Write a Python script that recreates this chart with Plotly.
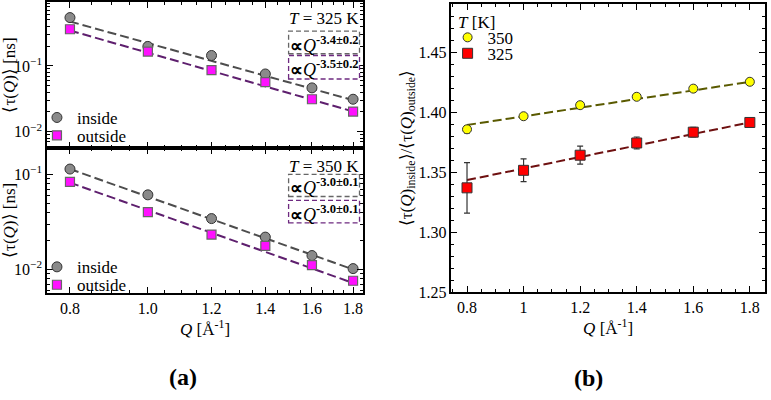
import plotly.graph_objects as go
import numpy as np

# ---------------- data ----------------
Q = [0.8, 1.0, 1.2, 1.4, 1.6, 1.8]
Q_ticks = [0.8, 1.0, 1.2, 1.4, 1.6, 1.8]
Q_ticktext_a = ["0.8", "1.0", "1.2", "1.4", "1.6", "1.8"]
Q_ticktext_b = ["0.8", "1", "1.2", "1.4", "1.6", "1.8"]
ratio_ticks = [1.25, 1.30, 1.35, 1.40, 1.45]
ratio_ticktext = ["1.25", "1.30", "1.35", "1.40", "1.45"]

# panel (a) top: T = 325 K
tau325_inside = [0.543, 0.198, 0.144, 0.0754, 0.0463, 0.0311]
tau325_inside_err = [0.03, 0.012, 0.01, 0.004, 0.0025, 0.0015]
tau325_outside = [0.361, 0.165, 0.0864, 0.0568, 0.0311, 0.0202]
tau325_outside_err = [0.025, 0.012, 0.006, 0.004, 0.002, 0.0012]
fit325_inside = (0.474, -3.4)    # amplitude at Q=0.8, exponent
fit325_outside = (0.346, -3.5)

# panel (a) bottom: T = 350 K
tau350_inside = [0.114, 0.061, 0.0343, 0.0219, 0.0140, 0.0102]
tau350_inside_err = [0.005, 0.003, 0.0015, 0.001, 0.0008, 0.0006]
tau350_outside = [0.0834, 0.0402, 0.0233, 0.0177, 0.0111, 0.0076]
tau350_outside_err = [0.004, 0.002, 0.0012, 0.0015, 0.0007, 0.0005]
fit350_inside = (0.114, -3.0)
fit350_outside = (0.082, -3.0)

# panel (b): ratio inside/outside
ratio350 = [1.3858, 1.3967, 1.4059, 1.4129, 1.4197, 1.4254]
ratio350_err = [0.003, 0.002, 0.002, 0.002, 0.002, 0.002]
ratio325 = [1.337, 1.3516, 1.3642, 1.3744, 1.3834, 1.3915]
ratio325_err = [0.021, 0.0095, 0.0075, 0.005, 0.004, 0.0035]
line350_ends = [1.3894, 1.4254]
line325_ends = [1.3435, 1.3915]

FONT = "Liberation Serif"

def powerlaw(fit):
    a, b = fit
    q = np.array(Q)
    return a * (q / Q[0]) ** b

fig = go.Figure()

grey_fill = "#8a8a8a"
grey_line = "#4d4d4d"
mag_fill = "#ff10ff"
purple_line = "#5e1f6e"
DASH = "9px,4px"

def add_panel_a(xa, ya, ins, ins_err, outs, outs_err, fit_in, fit_out, leg_in, leg_out):
    fig.add_trace(go.Scatter(x=Q, y=powerlaw(fit_in), mode="lines", xaxis=xa, yaxis=ya,
                             line=dict(color=grey_line, width=2, dash=DASH), showlegend=False))
    fig.add_trace(go.Scatter(x=Q, y=powerlaw(fit_out), mode="lines", xaxis=xa, yaxis=ya,
                             line=dict(color=purple_line, width=2, dash=DASH), showlegend=False))
    fig.add_trace(go.Scatter(x=Q, y=ins, mode="markers", name="inside", xaxis=xa, yaxis=ya,
                             legend=leg_in,
                             error_y=dict(type="data", array=ins_err, color="#333", thickness=1, width=2),
                             marker=dict(symbol="circle", size=10, color=grey_fill,
                                         line=dict(color="#333", width=1))))
    fig.add_trace(go.Scatter(x=Q, y=outs, mode="markers", name="outside", xaxis=xa, yaxis=ya,
                             legend=leg_out,
                             error_y=dict(type="data", array=outs_err, color="#333", thickness=1, width=2),
                             marker=dict(symbol="square", size=9, color=mag_fill,
                                         line=dict(color="#666", width=1.2))))

add_panel_a("x", "y", tau325_inside, tau325_inside_err, tau325_outside, tau325_outside_err,
            fit325_inside, fit325_outside, "legend", "legend2")
add_panel_a("x2", "y2", tau350_inside, tau350_inside_err, tau350_outside, tau350_outside_err,
            fit350_inside, fit350_outside, "legend3", "legend4")

# panel (b)
fig.add_trace(go.Scatter(x=[Q[0], Q[-1]], y=line350_ends, mode="lines", xaxis="x3", yaxis="y3",
                         line=dict(color="#5a5a00", width=2, dash=DASH), showlegend=False))
fig.add_trace(go.Scatter(x=[Q[0], Q[-1]], y=line325_ends, mode="lines", xaxis="x3", yaxis="y3",
                         line=dict(color="#6e1010", width=2, dash=DASH), showlegend=False))
fig.add_trace(go.Scatter(x=Q, y=ratio350, mode="markers", name="350", xaxis="x3", yaxis="y3",
                         legend="legend5",
                         error_y=dict(type="data", array=ratio350_err, color="#333", thickness=1.2, width=3),
                         marker=dict(symbol="circle", size=9, color="#ffff00",
                                     line=dict(color="#333", width=1))))
fig.add_trace(go.Scatter(x=Q, y=ratio325, mode="markers", name="325", xaxis="x3", yaxis="y3",
                         legend="legend6",
                         error_y=dict(type="data", array=ratio325_err, color="#333", thickness=1.2, width=3),
                         marker=dict(symbol="square", size=10, color="#ff0000",
                                     line=dict(color="#333", width=1))))

TICK = 16
tickfont = dict(family=FONT, size=TICK, color="black")
common = dict(showline=True, linecolor="black", linewidth=1.5, mirror="ticks",
              ticks="inside", ticklen=6, tickcolor="black", tickwidth=1,
              showgrid=False, zeroline=False, tickfont=tickfont)

minor_q = [round(0.75 + 0.05 * i, 2) for i in range(23)]
minor_q = [v for v in minor_q if v not in Q_ticks]
minor_log_y = [m * 10.0 ** e for e in (-3, -2, -1, 0) for m in range(2, 10)]

xa_range = [np.log10(0.749), np.log10(1.853)]
title_font = dict(family=FONT, size=17, color="black")

def leg(x, y):
    return dict(x=x, y=y, xanchor="left", yanchor="middle", bgcolor="rgba(0,0,0,0)",
                font=dict(family=FONT, size=17, color="black"), itemwidth=30,
                tracegroupgap=0, borderwidth=0)

fig.update_layout(
    width=771, height=400,
    margin=dict(l=0, r=0, t=0, b=0),
    paper_bgcolor="white", plot_bgcolor="white",
    font=dict(family=FONT, size=16, color="black"),
    xaxis=dict(common, type="log", range=xa_range, domain=[0.0597, 0.4704], anchor="y",
               tickvals=Q_ticks, showticklabels=False,
               minor=dict(ticks="inside", ticklen=3, tickvals=minor_q, tickcolor="black")),
    yaxis=dict(common, type="log", range=[-2.247, -0.028], domain=[0.625, 1.0], anchor="x",
               tickvals=[0.01, 0.1], ticktext=["10<sup>−2</sup>", "10<sup>−1</sup>"],
               minor=dict(ticks="inside", ticklen=3, tickvals=minor_log_y, tickcolor="black"),
               title=dict(text="⟨τ(<i>Q</i>)⟩ [ns]", font=title_font, standoff=2)),
    xaxis2=dict(common, type="log", range=xa_range, domain=[0.0597, 0.4704], anchor="y2",
                tickvals=Q_ticks, ticktext=Q_ticktext_a,
                minor=dict(ticks="inside", ticklen=3, tickvals=minor_q, tickcolor="black"),
                title=dict(text="<i>Q</i> [Å<sup>-1</sup>]", font=title_font, standoff=5)),
    yaxis2=dict(common, type="log", range=[-2.246, -0.72], domain=[0.2525, 0.625], anchor="x2",
                tickvals=[0.01, 0.1], ticktext=["10<sup>−2</sup>", "10<sup>−1</sup>"],
                minor=dict(ticks="inside", ticklen=3, tickvals=minor_log_y, tickcolor="black"),
                title=dict(text="⟨τ(<i>Q</i>)⟩ [ns]", font=title_font, standoff=2)),
    xaxis3=dict(common, range=[0.745, 1.853], domain=[0.585, 0.992], anchor="y3",
                tickvals=Q_ticks, ticktext=Q_ticktext_b,
                minor=dict(ticks="inside", ticklen=3, dtick=0.05, tick0=0.8, tickcolor="black"),
                title=dict(text="<i>Q</i> [Å<sup>-1</sup>]", font=title_font, standoff=4)),
    yaxis3=dict(common, range=[1.25, 1.4903], domain=[0.254, 0.995], anchor="x3",
                tickvals=ratio_ticks, ticktext=ratio_ticktext,
                minor=dict(ticks="inside", ticklen=3, dtick=0.01, tick0=1.25, tickcolor="black"),
                title=dict(text="⟨τ(<i>Q</i>)<sub>inside</sub>⟩/⟨τ(<i>Q</i>)<sub>outside</sub>⟩",
                           font=title_font, standoff=2)),
    legend=leg(0.0467, 0.702),
    legend2=leg(0.0467, 0.656),
    legend3=leg(0.0467, 0.318),
    legend4=leg(0.0467, 0.272),
    legend5=leg(0.580, 0.908),
    legend6=leg(0.580, 0.867),
)

def ann(x, y, text, size=17, xanchor="center", **kw):
    fig.add_annotation(x=x, y=y, xref="paper", yref="paper", text=text, showarrow=False,
                       xanchor=xanchor, yanchor="middle", font=dict(family=FONT, size=size, color="black"), **kw)

# panel (a) annotations
ann(0.4675, 0.958, "<i>T</i> = 325 K", size=17, xanchor="right")
ann(0.4675, 0.577, "<i>T</i> = 350 K", size=17, xanchor="right")
# panel (b) legend title
ann(0.591, 0.948, "<i>T</i> [K]", size=17, xanchor="left")

boxes = [
    (0.867, 0.925, "#666666", "<b>∝</b><i>Q</i><sup><b>-3.4±0.2</b></sup>"),
    (0.802, 0.8625, "#6e2a80", "<b>∝</b><i>Q</i><sup><b>-3.5±0.2</b></sup>"),
    (0.500, 0.557, "#666666", "<b>∝</b><i>Q</i><sup><b>-3.0±0.1</b></sup>"),
    (0.432, 0.490, "#6e2a80", "<b>∝</b><i>Q</i><sup><b>-3.0±0.1</b></sup>"),
]
for y0, y1, col, txt in boxes:
    fig.add_shape(type="rect", xref="paper", yref="paper", x0=0.3735, x1=0.4656, y0=y0, y1=y1,
                  line=dict(color=col, width=1.3, dash="5px,3px"), fillcolor="white", layer="above")
    ann((0.3735 + 0.4656) / 2, (y0 + y1) / 2 - 0.004, txt, size=18)

ann(0.237, 0.035, "<b>(a)</b>", size=24)
ann(0.763, 0.033, "<b>(b)</b>", size=24)

fig.write_html("out.html", config={"displayModeBar": False},
               post_script="document.body.style.margin='0px';")
